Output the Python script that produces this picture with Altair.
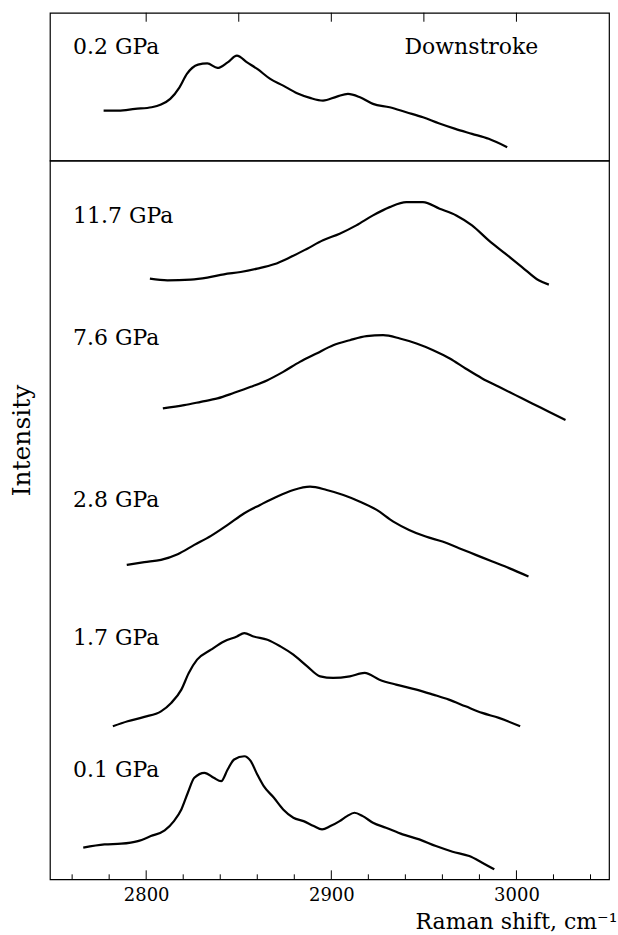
import altair as alt
import pandas as pd

# Raman shift (cm^-1) and offset intensity of each spectrum
shift_02 = [2777, 2785, 2794, 2803, 2808, 2813, 2818, 2822, 2828, 2833, 2838.5, 2844, 2849,
            2854.5, 2860, 2867, 2874, 2881.5, 2888.5, 2895.5, 2903, 2909, 2915.5, 2922.5,
            2931.5, 2940.5, 2949.5, 2958, 2967, 2976, 2985, 2995]
inten_02 = [50, 50, 51.7, 53.3, 56, 61.7, 73.3, 86.7, 96, 97.3, 92.7, 98.3, 105, 98.3, 91.7,
            81.7, 75, 67.3, 62.7, 60, 64, 66.7, 63.3, 56.7, 53.3, 48.3, 43.3, 37.3, 31.7,
            26.7, 21.7, 13.3]

shift_117 = [2802, 2811.5, 2824, 2833, 2842, 2851, 2860, 2869, 2878, 2887, 2895.5, 2904.5,
             2913.5, 2922.5, 2931.5, 2940.5, 2949.5, 2958.5, 2967.5, 2976, 2985, 2994, 3003,
             3012, 3017.5]
inten_117 = [601.7, 600, 600.7, 602.7, 606, 608.3, 611.7, 616, 623.3, 631.7, 640, 646.7, 655,
             665, 673.3, 678.3, 678.3, 671.7, 665, 655, 640, 626.7, 613.3, 600, 595.7]

shift_76 = [2809, 2820.5, 2829.5, 2838.5, 2847.5, 2856.5, 2865.5, 2874, 2883, 2892, 2901, 2910,
            2919, 2928, 2937, 2946, 2955, 2964, 2972.5, 2981.5, 2990.5, 2999.5, 3008.5,
            3017.5, 3026.5]
inten_76 = [471.7, 475, 478.3, 481.7, 487.3, 493.3, 500, 508.3, 518.3, 526.7, 535, 540, 544,
            545, 541.7, 536.7, 530, 521.7, 511.7, 501.7, 493.3, 485, 476.7, 468.3, 460]

shift_28 = [2789.5, 2799, 2808, 2817, 2826, 2835, 2844, 2853, 2861.5, 2870.5, 2879.5, 2888.5,
            2897.5, 2906.5, 2915.5, 2924.5, 2933.5, 2942, 2951, 2960, 2969, 2978, 2987, 2996,
            3006.5]
inten_28 = [315, 317.7, 320, 325.7, 335, 344, 355, 366.7, 375, 383.3, 390, 393.3, 390, 385,
            378.3, 370, 358.3, 350, 343.3, 338.3, 331.7, 325, 318.3, 311.7, 303.3]

shift_17 = [2782, 2790, 2799, 2808, 2813.5, 2819, 2823, 2827.5, 2835, 2842, 2849, 2853, 2858,
            2865.5, 2872.5, 2879.5, 2887, 2894, 2901, 2910, 2918, 2926, 2935, 2946, 2955,
            2963.5, 2972.5, 2981.5, 2990.5, 3002]
inten_17 = [153.3, 158.3, 162.7, 168.3, 176.7, 190, 206.7, 220, 230, 238.3, 243.3, 246.7,
            243.3, 240, 233.3, 225, 213.3, 203.3, 201.7, 203.3, 206.7, 200, 195, 190, 185,
            180, 173.3, 166.7, 161.7, 153.3]

shift_01 = [2766, 2777.5, 2786.5, 2795.5, 2802.5, 2810, 2815, 2819, 2822.5, 2826, 2831.5,
            2836.5, 2840.5, 2844, 2847.5, 2853, 2856.5, 2860, 2863.5, 2869, 2874, 2879.5, 2885,
            2890.5, 2895, 2899.5, 2904.5, 2908.5, 2912.5, 2917, 2922.5, 2929.5, 2938.5,
            2947.5, 2956.5, 2965.5, 2974.5, 2981.5, 2988]
inten_01 = [31.7, 35, 35.7, 38.3, 43.3, 49, 58.3, 70, 86.7, 101.7, 106.7, 101.7, 98.3, 110,
            120, 123.3, 118.3, 105, 93.3, 81.7, 70, 61.7, 58.3, 53.3, 50, 53.3, 58.3, 63.3,
            66.7, 63.3, 56.7, 51.7, 45, 40, 33.3, 27.7, 23.3, 16.7, 10]

# Pressure labels: text, x position (cm^-1), baseline height (intensity units)
label_text = ["11.7 GPa", "7.6 GPa", "2.8 GPa", "1.7 GPa", "0.1 GPa"]
label_shift = [2760.5, 2760.5, 2760.5, 2760.5, 2760.5]
label_inten = [657, 535, 373, 235, 102]

top_label_text = ["0.2 GPa", "Downstroke"]
top_label_shift = [2760.5, 2939.5]
top_label_inten = [107, 107]

# Axis tick positions
top_ticks = [2800, 2850, 2900, 2950, 3000]
major_ticks = [2800, 2900, 3000]
minor_ticks = [2760, 2780, 2820, 2840, 2860, 2880, 2920, 2940, 2960, 2980, 3020, 3040]

X_DOMAIN = [2748, 3050]
FONT = "DejaVu Serif"
W = 560
H_TOP = 148
H_BOT = 720

xscale = alt.Scale(domain=X_DOMAIN, nice=False, zero=False)

# ---------- top panel (downstroke) ----------
top_df = pd.DataFrame({"shift": shift_02, "intensity": inten_02})
top_lab = pd.DataFrame({"shift": top_label_shift, "intensity": top_label_inten,
                        "label": top_label_text})
top_tick_df = pd.DataFrame({"shift": top_ticks})

x_top = alt.X("shift:Q", scale=xscale, axis=None)
y_top = alt.Y("intensity:Q", scale=alt.Scale(domain=[0, H_TOP], nice=False, zero=False),
              axis=None)

top_line = alt.Chart(top_df).mark_line(
    color="black", strokeWidth=2.2, interpolate="monotone"
).encode(x=x_top, y=y_top)

top_text = alt.Chart(top_lab).mark_text(
    align="left", baseline="alphabetic", font=FONT, fontSize=22, color="black"
).encode(x=x_top, y=y_top, text="label:N")

top_tick = alt.Chart(top_tick_df).mark_rule(color="black", strokeWidth=1).encode(
    x=x_top, y=alt.value(0), y2=alt.value(9)
)

top = alt.layer(top_line, top_text, top_tick).properties(width=W, height=H_TOP)

# ---------- bottom panel (upstroke series) ----------
series = [
    ("11.7 GPa", shift_117, inten_117),
    ("7.6 GPa", shift_76, inten_76),
    ("2.8 GPa", shift_28, inten_28),
    ("1.7 GPa", shift_17, inten_17),
    ("0.1 GPa", shift_01, inten_01),
]
bot_df = pd.concat(
    [pd.DataFrame({"shift": s, "intensity": v, "spectrum": name}) for name, s, v in series],
    ignore_index=True,
)
bot_lab = pd.DataFrame({"shift": label_shift, "intensity": label_inten, "label": label_text})
major_df = pd.DataFrame({"shift": major_ticks})
minor_df = pd.DataFrame({"shift": minor_ticks})

bottom_axis = alt.Axis(
    values=major_ticks, format="d", ticks=False, domain=False, grid=False,
    labelFont=FONT, labelFontSize=18, labelPadding=7, labelColor="black",
    title="Raman shift, cm\u207b\u00b9", titleFont=FONT, titleFontSize=22,
    titleFontWeight="normal", titleColor="black", titleAlign="right",
    titleBaseline="alphabetic", titleX=W + 8, titleY=49,
)
left_axis = alt.Axis(
    labels=False, ticks=False, domain=False, grid=False,
    title="Intensity", titleFont=FONT, titleFontSize=25, titleFontWeight="normal",
    titleColor="black", titleAngle=270, titleAlign="center", titleBaseline="alphabetic",
    titleX=-20, titleY=280,
)

x_bot = alt.X("shift:Q", scale=xscale, axis=bottom_axis)
y_bot = alt.Y("intensity:Q", scale=alt.Scale(domain=[0, H_BOT], nice=False, zero=False),
              axis=left_axis)

bot_line = alt.Chart(bot_df).mark_line(
    color="black", strokeWidth=2.2, interpolate="monotone"
).encode(x=x_bot, y=y_bot, detail="spectrum:N")

bot_text = alt.Chart(bot_lab).mark_text(
    align="left", baseline="alphabetic", font=FONT, fontSize=22, color="black"
).encode(x=x_bot, y=y_bot, text="label:N")

major_tick = alt.Chart(major_df).mark_rule(color="black", strokeWidth=1).encode(
    x=x_bot, y=alt.value(H_BOT), y2=alt.value(H_BOT - 9)
)
minor_tick = alt.Chart(minor_df).mark_rule(color="black", strokeWidth=1).encode(
    x=x_bot, y=alt.value(H_BOT), y2=alt.value(H_BOT - 5)
)

bottom = alt.layer(bot_line, bot_text, major_tick, minor_tick).properties(
    width=W, height=H_BOT
)

chart = (
    alt.vconcat(top, bottom, spacing=0, bounds="flush")
    .properties(padding={"left": 9, "top": 10, "right": 0, "bottom": 0},
                background="white")
    .configure_view(stroke="black", strokeWidth=1.2)
)

chart.save("out.html", embed_options={"renderer": "svg", "actions": False})
